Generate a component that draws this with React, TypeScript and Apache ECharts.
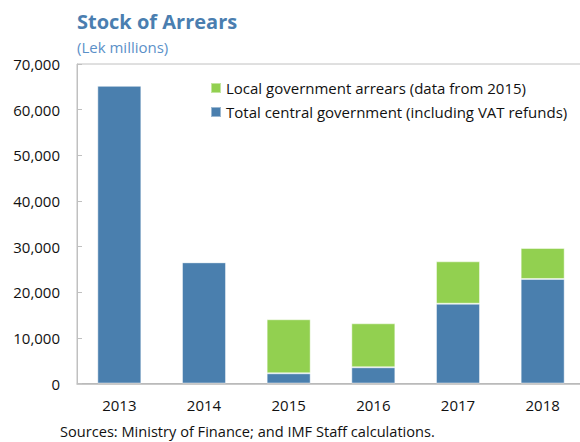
import React, { useEffect, useRef } from "react";
import * as echarts from "echarts";

const years = ["2013", "2014", "2015", "2016", "2017", "2018"];
const centralGov = [65250, 26550, 2230, 3550, 17480, 22900];
const localGov = [0, 0, 11840, 9640, 9290, 6790];
const yTicks = { min: 0, max: 70000, interval: 10000 };

const FONT = "'Open Sans', 'Noto Sans', sans-serif";

export default function App() {
  const ref = useRef<HTMLDivElement>(null);
  useEffect(() => {
    if (!ref.current) return;
    const chart = echarts.init(ref.current, null, { renderer: "svg" });
    chart.setOption({
      animation: false,
      textStyle: { fontFamily: FONT },
      title: [
        {
          text: "Stock of Arrears",
          left: 72,
          top: 6,
          textStyle: { fontFamily: FONT, fontSize: 20, fontWeight: "bold", color: "#4a7eb0" },
        },
        {
          text: "(Lek millions)",
          left: 72,
          top: 34,
          textStyle: { fontFamily: FONT, fontSize: 15, fontWeight: "normal", color: "#5b90c8" },
        },
        {
          text: "Sources: Ministry of Finance; and IMF Staff calculations.",
          left: 60,
          top: 422,
          padding: 0,
          textStyle: { fontFamily: FONT, fontSize: 14.6, fontWeight: "normal", color: "#111", lineHeight: 17 },
        },
      ],
      legend: {
        orient: "vertical",
        left: 205,
        top: 75,
        itemWidth: 10,
        itemHeight: 10,
        itemGap: 8,
        icon: "rect",
        data: ["Local government arrears (data from 2015)", "Total central government (including VAT refunds)"],
        textStyle: { fontFamily: FONT, fontSize: 15, color: "#111", lineHeight: 16 },
      },
      grid: {
        left: 77,
        top: 64,
        width: 508,
        height: 319.5,
        show: true,
        borderColor: "#c0c0c0",
        borderWidth: 1,
        outerBoundsMode: "none",
      },
      xAxis: {
        type: "category",
        data: years,
        axisLine: { lineStyle: { color: "#b8b8b8", width: 1.5 } },
        axisTick: { inside: true, length: 5, lineStyle: { color: "#b8b8b8" } },
        axisLabel: { fontFamily: FONT, fontSize: 15, color: "#111", margin: 14 },
      },
      yAxis: {
        type: "value",
        min: yTicks.min,
        max: yTicks.max,
        interval: yTicks.interval,
        splitLine: { show: false },
        axisLine: { show: true, lineStyle: { color: "#c0c0c0" } },
        axisTick: { show: true, inside: true, length: 5, lineStyle: { color: "#c0c0c0" } },
        axisLabel: {
          fontFamily: FONT,
          fontSize: 15,
          color: "#111",
          margin: 17,
          formatter: (v: number) => v.toLocaleString("en-US"),
        },
      },
      series: [
        {
          name: "Total central government (including VAT refunds)",
          type: "bar",
          stack: "total",
          data: centralGov,
          barWidth: 44,
          itemStyle: { color: "#4a7fae", borderColor: "rgba(255,255,255,0.45)", borderWidth: 1 },
        },
        {
          name: "Local government arrears (data from 2015)",
          type: "bar",
          stack: "total",
          data: localGov,
          barWidth: 44,
          itemStyle: { color: "#92d050", borderColor: "rgba(255,255,255,0.45)", borderWidth: 1 },
        },
      ],
    });
    return () => chart.dispose();
  }, []);
  return (
    <div
      ref={ref}
      style={{ position: "fixed", left: 0, top: 0, width: 580, height: 442, background: "#fff" }}
    />
  );
}
